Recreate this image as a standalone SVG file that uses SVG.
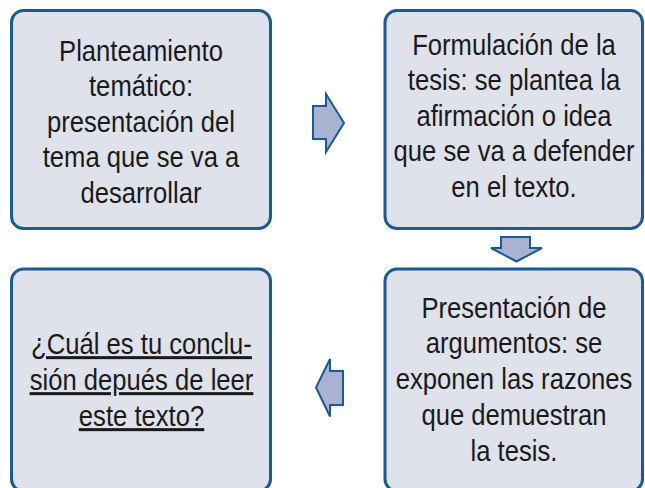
<svg xmlns="http://www.w3.org/2000/svg" width="645" height="488" viewBox="0 0 645 488">
<style>
.box{fill:#dfe1eb;stroke:#1a5a96;stroke-width:3}
.arr{fill:#a9b2d1;stroke:#1a5a96;stroke-width:2;stroke-linejoin:miter}
.t{font-family:"Liberation Sans",Arial,sans-serif;font-size:30px;fill:#1a1a1a;text-anchor:middle}
.u{text-decoration:underline}
</style>
<rect width="645" height="488" fill="#ffffff"/>
<g id="connectors">
<polygon class="arr" points="313,106 326,106 326,94 344,123 326,152 326,139 313,139"/>
<polygon class="arr" points="501,237 530,237 530,248 542,248 516.5,261.5 491,248 501,248"/>
<polygon class="arr" points="343,371 330,371 330,359 316,387.5 330,416.5 330,405 343,405"/>
</g>
<g id="node1">
<rect class="box" x="11.5" y="10.5" width="259" height="218" rx="12"/>
<g transform="translate(141,0) scale(0.855,1)">
<text class="t" x="0" y="61">Planteamiento</text>
<text class="t" x="0" y="96.5">temático:</text>
<text class="t" x="0" y="132">presentación del</text>
<text class="t" x="0" y="167.5">tema que se va a</text>
<text class="t" x="0" y="203">desarrollar</text>
</g>
</g>
<g id="node2">
<rect class="box" x="385" y="10.5" width="257.5" height="218" rx="12"/>
<g transform="translate(514,0) scale(0.855,1)">
<text class="t" x="0" y="55">Formulación de la</text>
<text class="t" x="0" y="90.5">tesis: se plantea la</text>
<text class="t" x="0" y="126">afirmación o idea</text>
<text class="t" x="0" y="161.5">que se va a defender</text>
<text class="t" x="0" y="197">en el texto.</text>
</g>
</g>
<g id="node3">
<rect class="box" x="11.5" y="269" width="259" height="222" rx="12"/>
<g transform="translate(141.5,0) scale(0.855,1)">
<text class="t u" x="0" y="354">¿Cuál es tu conclu-</text>
<text class="t u" x="0" y="390">sión depués de leer</text>
<text class="t u" x="0" y="426">este texto?</text>
</g>
</g>
<g id="node4">
<rect class="box" x="385" y="269" width="257.5" height="222" rx="12"/>
<g transform="translate(514,0) scale(0.855,1)">
<text class="t" x="0" y="318">Presentación de</text>
<text class="t" x="0" y="353.5">argumentos: se</text>
<text class="t" x="0" y="389">exponen las razones</text>
<text class="t" x="0" y="425">que demuestran</text>
<text class="t" x="0" y="461">la tesis.</text>
</g>
</g>
</svg>
